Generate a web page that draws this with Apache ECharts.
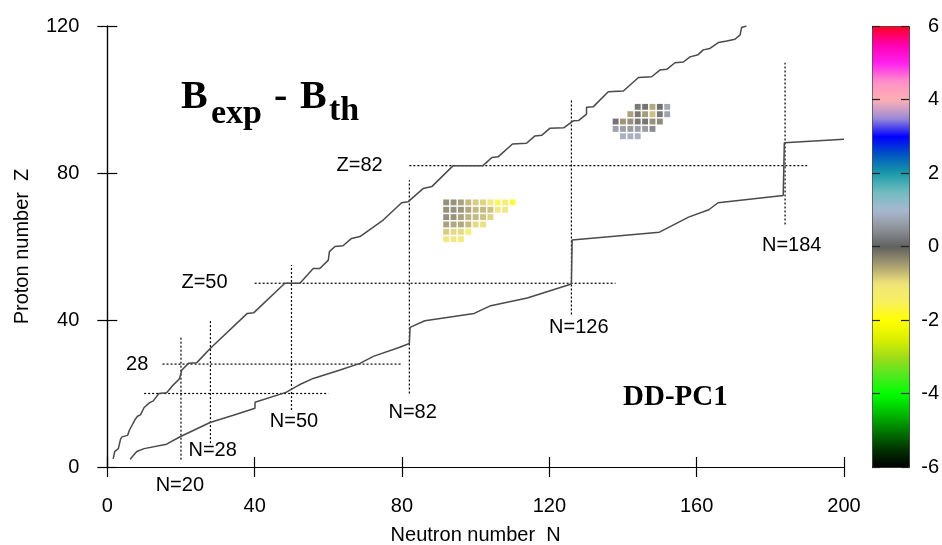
<!DOCTYPE html>
<html><head><meta charset="utf-8">
<script src="https://cdn.jsdelivr.net/npm/echarts@6/dist/echarts.min.js"></script>
<style>html,body{margin:0;padding:0;background:#fff}#c{width:942px;height:545px}</style>
</head><body><div id="c"></div>
<script>
// ---------- data ----------
const xTickValues = [0, 40, 80, 120, 160, 200];
const yTickValues = [0, 40, 80, 120];
const colorTickValues = [-6, -4, -2, 0, 2, 4, 6];

// proton drip line (upper), [N, Z]
const protonDrip = [[1.6,2.2],[2,4.2],[3,5],[3.6,7.6],[4,8.2],[5.5,8.6],[6,10],[7,11.9],[7.6,13],[8.2,13.8],[9,14.2],[10,16.2],[11.5,17.5],[12.5,18],[14,20],[16.1,20.2],[17.6,22],[19.6,24],[20.2,26.3],[22,28.2],[24.3,28.4],[28,32.3],[38,41.8],[39.8,42],[48.2,50],[52.3,50],[55.9,54],[57.7,54],[60,56.3],[60.3,58.6],[61.8,60],[64,60.2],[66.3,62.2],[68.6,62.7],[74.9,67.2],[79.9,71.9],[81.7,72.2],[85.8,75.8],[88.1,76.3],[93.9,82],[102,82],[104.4,84.2],[106.1,84.4],[110,87.9],[113.8,88.1],[116.1,90.1],[118,90.3],[120.2,92.2],[123.9,92.3],[126.5,94.2],[128,94.3],[130.1,96],[130.1,97.9],[131.9,98],[136,102.1],[140.1,102.3],[144.2,106],[147.8,106.2],[150,108],[151.9,108.2],[154.1,110],[156.4,110.2],[158.2,111.6],[160.4,112.2],[161.8,113.5],[163.6,113.9],[165.9,115.5],[168.2,115.9],[170.4,116.4],[171.8,117.6],[172.2,119.6],[173.5,120]];

// neutron drip line (lower), [N, Z]
const neutronDrip = [[6.2,2.1],[8,4.2],[10,5],[16.1,6.2],[19.9,8.3],[27.9,12.1],[34,14],[40.1,16],[40.1,17.6],[48.5,20.3],[52,22.3],[55.9,24.1],[63.2,26.4],[68.6,28.2],[72.2,30.1],[79.2,32.5],[82,33.6],[82.2,38],[86.2,39.8],[99.6,41.8],[104.1,43.9],[114,46],[126,49.8],[126.2,61.8],[149.9,63.9],[157.8,68],[163.3,70],[165.8,71.9],[183.5,73.9],[183.8,88.2],[200,89.2]];

// magic numbers: horizontal [Z, Nfrom, Nto], vertical [N, Zfrom, Zto]
const magicH = [[20, 10, 60], [28, 15, 80], [50, 40, 138], [82, 82, 190]];
const magicV = [[20, 2, 35.5], [28, 6.5, 40], [50, 15.5, 55], [82, 20, 78], [126, 41.5, 100], [184, 66, 110]];

// annotations [N, Z, text]
const annotations = [[68.5, 82, 'Z=82'], [26.4, 50.2, 'Z=50'], [8.1, 28, '28'], [19.7, -4.9, 'N=20'], [28.6, 4.6, 'N=28'], [50.7, 12.3, 'N=50'], [82.9, 14.8, 'N=82'], [128, 38, 'N=126'], [185.8, 60.4, 'N=184']];

// B_exp - B_th (MeV), even-even nuclei; each row: Z, first N, values (N step 2)
const rowsZ   = [72, 70, 68, 66, 64, 62, 98, 96, 94, 92, 90];
const rowsN0  = [92, 92, 92, 92, 92, 92, 144, 142, 138, 138, 140];
const rowsVal = [
  [-0.3,-0.3,-0.45,-0.65,-0.8,-0.85,-1.1,-1.6,-1.3,-1.8],
  [-0.3,-0.3,-0.35,-0.5,-0.65,-0.65,-0.7,-1.0,-1.0],
  [-0.3,-0.3,-0.45,-0.6,-0.65,-0.7,-0.85],
  [-0.45,-0.5,-0.5,-0.65,-0.9,-0.95],
  [-0.8,-0.9,-0.9,-1.4],
  [-1.0,-1.0,-1.1],
  [-0.1,-0.05,-0.5,0.0,0.7],
  [-0.45,-0.1,-0.4,-0.7,0.1,0.6],
  [0.05,-0.35,-0.3,-0.1,0.05,-0.3,-0.25],
  [0.55,0.55,0.5,0.55,0.5,0.3],
  [0.8,0.8,0.8]
];

const colorStops = ['#000000','#003300','#007a00','#00c000','#00ff00','#50e820','#a0dc18','#dcf000','#ffff00','#f8f060','#f0e478','#a89e72','#606060','#8e9298','#a8b8d0','#70bcc0','#1a9aa8','#0058c0','#0000ff','#9c8cd8','#ffb0b4','#ff90c8','#ff20f0','#ff00b0','#ff0020'];

// ---------- build ----------
const cells = [];
rowsZ.forEach((z, i) => rowsVal[i].forEach((v, j) => cells.push([rowsN0[i] + 2 * j, z, v])));

const FONT = '"Liberation Sans", Arial, sans-serif';
const SERIF = '"Liberation Serif", "Times New Roman", serif';
const FS = 20;
const TXT = '#000';
const chart = echarts.init(document.getElementById('c'), null, {renderer: 'canvas'});

const dotted = {color: '#000', width: 1.2, type: [2, 2]};
const magicSeries = [];
magicH.forEach(m => magicSeries.push({type: 'line', data: [[m[1], m[0]], [m[2], m[0]]], showSymbol: false, lineStyle: dotted, silent: true, z: 3}));
magicV.forEach(m => magicSeries.push({type: 'line', data: [[m[0], m[1]], [m[0], m[2]]], showSymbol: false, lineStyle: dotted, silent: true, z: 3}));

const axisCommon = {
  type: 'value', min: 0, splitLine: {show: false},
  axisLine: {show: true, lineStyle: {color: '#000', width: 1.2}},
  axisTick: {show: true, length: 10, lineStyle: {color: '#000', width: 1.2}},
};

chart.setOption({
  animation: false,
  backgroundColor: '#fff',
  grid: [
    {left: 107.3, top: 26, width: 736.7, height: 441, containLabel: false, outerBoundsMode: 'none'},
    {left: 872, top: 26, width: 37, height: 441, containLabel: false, outerBoundsMode: 'none'}
  ],
  xAxis: [
    Object.assign({}, axisCommon, {gridIndex: 0, max: 200, interval: 40, position: 'bottom',
      name: 'Neutron number  N', nameLocation: 'middle', nameGap: 58,
      nameTextStyle: {fontFamily: FONT, fontSize: FS, color: TXT},
      axisLabel: {fontFamily: FONT, fontSize: FS, color: TXT, margin: 29}}),
    Object.assign({}, axisCommon, {gridIndex: 0, max: 200, interval: 40, position: 'top', axisLabel: {show: false}}),
    {type: 'value', gridIndex: 1, min: 0, max: 1, show: false}
  ],
  yAxis: [
    Object.assign({}, axisCommon, {gridIndex: 0, max: 120, interval: 40, position: 'left',
      name: 'Proton number  Z', nameLocation: 'middle', nameGap: 75, nameRotate: 90,
      nameTextStyle: {fontFamily: FONT, fontSize: FS, color: TXT},
      axisLabel: {fontFamily: FONT, fontSize: FS, color: TXT, margin: 28}}),
    Object.assign({}, axisCommon, {gridIndex: 0, max: 120, interval: 40, position: 'right', axisLabel: {show: false}}),
    {type: 'value', gridIndex: 1, min: -6, max: 6, interval: 2, position: 'left', z: 10,
      axisLine: {show: false}, splitLine: {show: false}, axisLabel: {show: false},
      axisTick: {show: true, inside: true, length: 8, lineStyle: {color: '#222', width: 1.2}}},
    {type: 'value', gridIndex: 1, min: -6, max: 6, interval: 2, position: 'right', z: 10,
      axisLine: {show: false}, splitLine: {show: false},
      axisTick: {show: true, inside: true, length: 8, lineStyle: {color: '#222', width: 1.2}},
      axisLabel: {fontFamily: FONT, fontSize: FS, color: TXT, align: 'right', margin: 30}}
  ],
  visualMap: {
    type: 'continuous', min: -6, max: 6, dimension: 2, seriesIndex: 2,
    calculable: false, hoverLink: false, realtime: false,
    orient: 'vertical', left: 872, top: 26, itemWidth: 37, itemHeight: 441,
    padding: 0, borderWidth: 1, borderColor: '#222', text: null, showLabel: false,
    inRange: {color: colorStops}
  },
  graphic: [
    {type: 'text', left: 181, top: 78, style: {text: 'B', font: 'bold 40px ' + SERIF, fill: '#000'}},
    {type: 'text', left: 211, top: 97, style: {text: 'exp', font: 'bold 34px ' + SERIF, fill: '#000'}},
    {type: 'text', left: 274, top: 78, style: {text: '-', font: 'bold 40px ' + SERIF, fill: '#000'}},
    {type: 'text', left: 300, top: 78, style: {text: 'B', font: 'bold 40px ' + SERIF, fill: '#000'}},
    {type: 'text', left: 329, top: 94, style: {text: 'th', font: 'bold 34px ' + SERIF, fill: '#000'}},
    {type: 'text', left: 623, top: 383, style: {text: 'DD-PC1', font: 'bold 29px ' + SERIF, fill: '#000'}}
  ],
  series: [
    {type: 'line', data: protonDrip, showSymbol: false, lineStyle: {color: '#4a4a4a', width: 1.5}, silent: true, z: 4},
    {type: 'line', data: neutronDrip, showSymbol: false, lineStyle: {color: '#4a4a4a', width: 1.5}, silent: true, z: 4},
    {type: 'custom', data: cells, encode: {x: 0, y: 1}, silent: true, z: 5,
      renderItem: (params, api) => {
        const c = api.coord([api.value(0), api.value(1)]);
        const s = api.size([2, 2]);
        const w = s[0] * 0.8, h = s[1] * 0.8;
        return {type: 'rect', shape: {x: c[0] - w / 2, y: c[1] - h / 2, width: w, height: h},
          style: {fill: api.visual('color'), opacity: 0.9}};
      }},
    {type: 'scatter', data: annotations, symbolSize: 0.1, clip: false, silent: true, z: 6,
      itemStyle: {color: '#fff'},
      label: {show: true, position: 'inside', formatter: p => p.data[2], fontFamily: FONT, fontSize: FS,
        color: TXT, textBorderWidth: 0, opacity: 1}}
  ].concat(magicSeries)
});
</script></body></html>
